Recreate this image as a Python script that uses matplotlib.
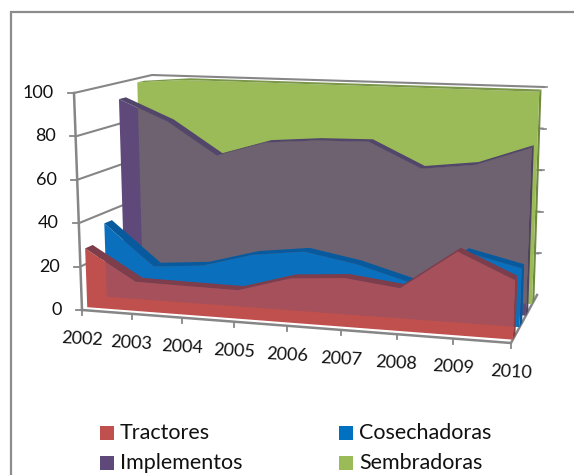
import numpy as np
import matplotlib
matplotlib.use('Agg')
import matplotlib.pyplot as plt
from matplotlib.patches import Polygon, Rectangle

W, H = 574, 475

years = ['2002', '2003', '2004', '2005', '2006', '2007', '2008', '2009', '2010']
y_ticks = [0, 20, 40, 60, 80, 100]

tractores = [27.3, 13.5, 13.2, 13.0, 20.0, 21.8, 19.0, 36.8, 26.0]
cosechadoras = [35.0, 16.0, 18.0, 24.6, 27.6, 23.3, 16.6, 32.0, 26.3]
implementos = [92.0, 82.0, 66.6, 74.0, 76.0, 76.5, 65.0, 68.0, 77.0]
sembradoras = [98.0, 100.0, 100.0, 100.0, 100.0, 100.0, 100.0, 100.0, 100.0]

plt.rcParams['font.family'] = ['Lato', 'DejaVu Sans']

# box corners of the 3d plot in pixels: (category, value, depth)
corners = {
    (0, 0, 0): (82, 310), (1, 0, 0): (511, 343),
    (0, 1, 0): (74, 93), (1, 1, 0): (519, 112),
    (0, 0, 1): (157, 270), (1, 0, 1): (537, 295),
    (0, 1, 1): (152, 75), (1, 1, 1): (544, 87),
}
persp = 1.09  # categories spread out towards the viewer on the right


# trilinear map from chart coordinates to pixels
def project(t, v, d):
    t = t / (t + persp * (1 - t))
    v = v / 100
    px = np.zeros(2)
    for (a, b, c), p in corners.items():
        w = (t if a else 1 - t) * (v if b else 1 - v) * (d if c else 1 - d)
        px += w * np.array(p)
    return px


def face(values, d):
    n = len(values)
    ts = np.arange(n) / (n - 1)
    top = [project(t, v, d) for t, v in zip(ts, values)]
    return np.array([project(0, 0, d)] + top + [project(1, 0, d)])


def strip(values, d0, d1):
    n = len(values)
    ts = np.arange(n) / (n - 1)
    front = [project(t, v, d0) for t, v in zip(ts, values)]
    back = [project(t, v, d1) for t, v in zip(ts, values)]
    return np.array(front + back[::-1])


def side(value, d0, d1):
    return np.array([project(1, 0, d0), project(1, value, d0), project(1, value, d1), project(1, 0, d1)])


fig = plt.figure(figsize=(W / 100, H / 100), dpi=100)
ax = fig.add_axes([0, 0, 1, 1])
ax.set_xlim(0, W)
ax.set_ylim(H, 0)
ax.axis('off')

grey = '#868686'

# chart frame, only top and left fall inside the picture
ax.plot([11, 11, W], [H, 12, 12], color='#8c8c8c', lw=1.6, solid_joinstyle='miter')

# walls and gridlines
for v in y_ticks:
    if v == 0:
        continue
    pts = np.array([project(0, v, 0), project(0, v, 1), project(1, v, 1)])
    ax.plot(pts[:, 0], pts[:, 1], color=grey, lw=1.5, solid_joinstyle='miter', zorder=1)
    # little tick poking out on the right of the back wall
    a = project(1, v, 1)
    ax.plot([a[0], a[0] + 3], [a[1], a[1]], color=grey, lw=1.2, zorder=1)

left_edge = np.array([project(0, 0, 0), project(0, 100, 0)])
ax.plot(left_edge[:, 0], left_edge[:, 1], color=grey, lw=1.8, zorder=1)
floor = np.array([project(0, 0, 0), project(1, 0, 0), project(1, 0, 1)])
ax.plot(floor[:, 0], floor[:, 1], color=grey, lw=1.8, zorder=1)

# ticks on the two front axes
for i in range(len(years)):
    t = i / (len(years) - 1)
    a = project(t, 0, 0)
    ax.plot([a[0], a[0]], [a[1], a[1] + 5], color=grey, lw=1.3, zorder=1)
    ax.text(a[0] + 0, a[1] + 29, years[i], ha='center', va='center', fontsize=13, rotation=-3, color='#111111')
for v in y_ticks:
    a = project(0, v, 0)
    ax.plot([a[0] - 6, a[0]], [a[1], a[1]], color=grey, lw=1.3, zorder=1)
    ax.text(a[0] - 20, a[1], str(v), ha='right', va='center', fontsize=13, color='#111111')

series = [
    (sembradoras, 0.81, 0.90, '#9bbb59', '#7a9648', '#6f8a3e'),
    (implementos, 0.57, 0.66, '#5f497a', '#52466a', '#4f4360'),
    (cosechadoras, 0.33, 0.43, '#0a70bd', '#085a9f', '#08589a'),
    (tractores, 0.07, 0.17, '#c0504d', '#7d3d4b', '#8a3d42'),
]

for values, d0, d1, col, top_col, side_col in series:
    ax.add_patch(Polygon(side(values[-1], d0, d1), closed=True, fc=side_col, ec='none', zorder=2))
    fp = Polygon(face(values, d0), closed=True, fc=col, ec='none', zorder=2)
    ax.add_patch(fp)
    # see-through look: the face gets muddier where something sits behind it
    if col == '#5f497a':
        over = Polygon(face(sembradoras, 0.81), closed=True, fc='#6f6270', ec='none', zorder=2)
        ax.add_patch(over)
        over.set_clip_path(fp)
    if col == '#c0504d':
        for behind, db in [(cosechadoras, 0.33), (implementos, 0.57)]:
            over = Polygon(face(behind, db), closed=True, fc='#a5505a', ec='none', zorder=2)
            ax.add_patch(over)
            over.set_clip_path(fp)
    ax.add_patch(Polygon(strip(values, d0, d1), closed=True, fc=top_col, ec='none', zorder=2))

# legend
legend = [('Tractores', '#c0504d', 100, 426), ('Cosechadoras', '#0070c0', 339, 426),
          ('Implementos', '#5f497a', 100, 456), ('Sembradoras', '#9bbb59', 339, 456)]
for name, col, lx, ly in legend:
    ax.add_patch(Rectangle((lx, ly), 14, 14, fc=col, ec='none'))
    ax.text(lx + 20, ly + 7, name, ha='left', va='center', fontsize=15.5, color='#111111')

fig.savefig('out.png', dpi=100)
